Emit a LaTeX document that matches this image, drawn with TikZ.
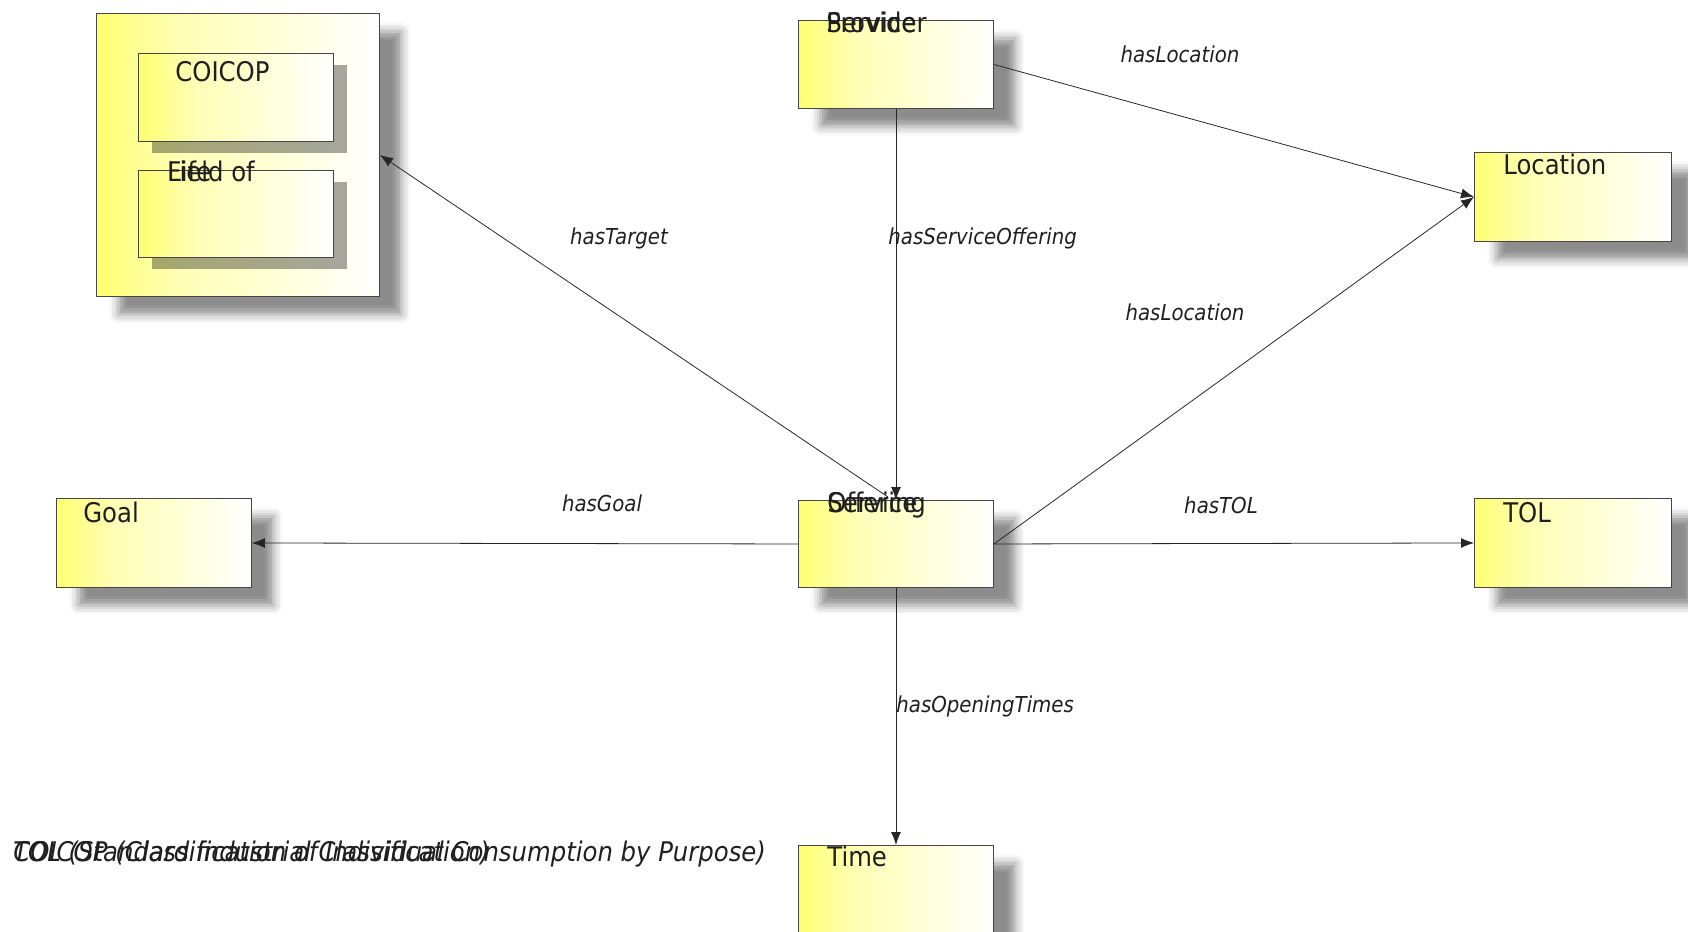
\documentclass[tikz,border=0pt]{standalone}
\usepackage{fontspec}
\setmainfont{DejaVu Sans}[FakeStretch=0.9]
\usetikzlibrary{arrows.meta,shadows,shadows.blur}
\definecolor{yel}{RGB}{255,255,110}
\definecolor{edgegray}{RGB}{70,70,70}
\pgfdeclarehorizontalshading{clsshade}{100bp}{color(0bp)=(yel); color(25bp)=(yel);
    color(30bp)=(yel!80!white); color(40bp)=(yel!50!white); color(55bp)=(yel!30!white);
    color(75bp)=(white); color(100bp)=(white)}

\begin{document}
\begin{tikzpicture}[x=0.02cm,y=-0.02cm,
        cls/.style={draw=edgegray, line width=0.55pt, shading=clsshade,
            anchor=north west, inner sep=0pt, minimum width=3.9cm, minimum height=1.76cm,
            blur shadow={shadow xshift=0.44cm, shadow yshift=-0.36cm,
                shadow blur radius=0.18cm, shadow opacity=45}},
        inner/.style={draw=edgegray, line width=0.55pt, shading=clsshade,
            anchor=north west, inner sep=0pt, minimum width=3.9cm, minimum height=1.76cm,
            drop shadow={shadow xshift=0.28cm, shadow yshift=-0.24cm, fill=black, opacity=0.35}},
        clsname/.style={anchor=base west, inner sep=0pt, font=\fontsize{15.4}{18}\selectfont, text=black!88},
        rel/.style={anchor=base, inner sep=0pt, font=\fontsize{12.5}{15}\selectfont\itshape, text=black!88},
        link/.style={draw=black!85, line width=0.45pt, -{Latex[length=0.26cm,width=0.2cm]}},
    ]
    \useasboundingbox (0,0) rectangle (1688,932);
    % classes
    \node[cls, minimum width=5.66cm, minimum height=5.66cm] (pkg) at (96,13) {};
    \node[inner] (coi) at (138,53) {};
    \node[inner, minimum height=1.74cm] (fld) at (138,170) {};
    \node[cls] (prov) at (798,20) {};
    \node[cls, minimum height=1.74cm] (off) at (798,500) {};
    \node[cls] (time) at (798,845) {};
    \node[cls, minimum width=3.94cm, minimum height=1.78cm] (loc) at (1474,152) {};
    \node[cls, minimum width=3.94cm, minimum height=1.78cm] (tol) at (1474,498) {};
    \node[cls, minimum height=1.78cm] (goal) at (56,498) {};
    \coordinate (offtop) at (888,497);

    % relations
    \draw[link] (prov.south) -- (off.north);
    \draw[link] (prov.east) -- (loc.west);
    \draw[link] (off.east) -- (loc.west);
    \draw[link] (off.east) -- (tol.west);
    \draw[link] (off.west) -- (goal.east);
    \draw[link] (offtop) -- (pkg.east);
    \draw[link] (off.south) -- (time.north);

    % class names
    \node[clsname] (provA) at (826,33) {Service};
    \node[clsname] (provB) at (826,33) {Provider};
    \node[clsname] (offA) at (827,513) {Service};
    \node[clsname] (offB) at (827,513) {Offering};
    \node[clsname] (locT) at (1503,175) {Location};
    \node[clsname] (tolT) at (1503,522) {TOL};
    \node[clsname] (goalT) at (83,522) {Goal};
    \node[clsname] (timeT) at (827,866) {Time};
    \node[clsname] (coiT) at (175,82) {COICOP};
    \node[clsname] (fldA) at (167,182) {Life};
    \node[clsname] (fldB) at (167,182) {Field of};

    % relation names
    \node[rel] (l1) at (1180,63) {hasLocation};
    \node[rel, anchor=base west] (l2) at (888,245) {hasServiceOffering};
    \node[rel] (l3) at (619,245) {hasTarget};
    \node[rel] (l4) at (1185,321) {hasLocation};
    \node[rel] (l5) at (602,512) {hasGoal};
    \node[rel] (l6) at (1221,514) {hasTOL};
    \node[rel, anchor=base west] (l7) at (896,712) {hasOpeningTimes};

    % notes
    \node[clsname, font=\fontsize{15.4}{18}\selectfont\itshape] (noteA) at (13,861) {COICOP (Classification of Individual Consumption by Purpose)};
    \node[clsname, font=\fontsize{15.4}{18}\selectfont\itshape] (noteB) at (13,861) {TOL (Standard industrial Classification)};
\end{tikzpicture}
\end{document}
